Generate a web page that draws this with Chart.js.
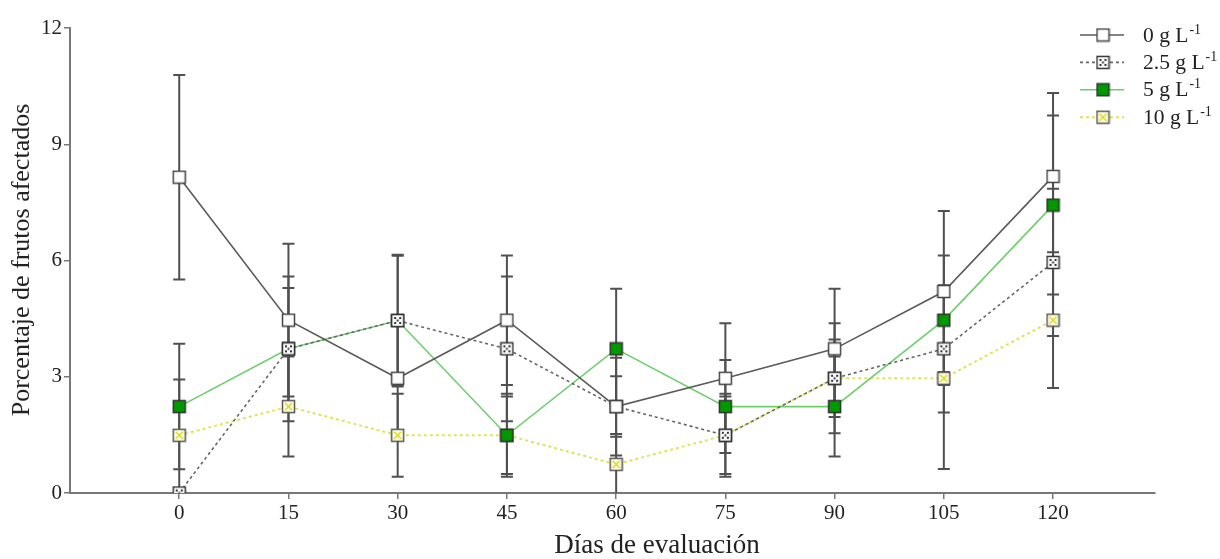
<!DOCTYPE html>
<html>
<head>
<meta charset="utf-8">
<script src="https://cdn.jsdelivr.net/npm/chart.js@4"></script>
<style>
  html, body { margin: 0; padding: 0; background: #fff; }
  canvas { display: block; }
</style>
</head>
<body>
<canvas id="chart" width="1220" height="559"></canvas>
<script>
// evaluation days
const days = [0, 15, 30, 45, 60, 75, 90, 105, 120];

// mean % of affected fruit per dose, with error (+/-)
const dose0 = [8.15, 4.46, 2.96, 4.46, 2.23, 2.96, 3.72, 5.2, 8.17];
const err0 = [2.64, 1.97, 1.5, 1.67, 1.26, 1.42, 1.55, 2.08, 2.15];

const dose25 = [0, 3.72, 4.45, 3.72, 2.23, 1.49, 2.96, 3.72, 5.95];
const err25 = [0, 1.57, 1.7, 1.87, 0.78, 1.0, 1.42, 1.64, 1.9];

const dose5 = [2.23, 3.72, 4.45, 1.49, 3.72, 2.23, 2.23, 4.46, 7.43];
const err5 = [1.62, 1.87, 1.67, 1.0, 1.55, 1.2, 1.29, 1.67, 2.31];

const dose10 = [1.49, 2.23, 1.49, 1.49, 0.74, 1.49, 2.96, 2.96, 4.46];
const err10 = [1.44, 1.29, 1.07, 1.07, 0.78, 1.07, 1.0, 2.34, 1.75];

const doseLabels = ['0', '2.5', '5', '10'];
const yTicks = [0, 3, 6, 9, 12];

const serif = '"Liberation Serif", "DejaVu Serif", serif';

// little square markers drawn once and reused by the points and the legend
function marker(fill, border, extra) {
  const c = document.createElement('canvas');
  c.width = 15; c.height = 15;
  const g = c.getContext('2d');
  g.fillStyle = fill;
  g.fillRect(1, 1, 13, 13);
  if (extra) extra(g);
  g.strokeStyle = border;
  g.lineWidth = 1.5;
  g.strokeRect(1.5, 1.5, 12, 12);
  return c;
}

const mk0 = marker('#ffffff', '#444');
const mk25 = marker('#ffffff', '#333', g => {
  g.fillStyle = '#333';
  [[4, 4], [9, 4], [6.5, 6.5], [4, 9], [9, 9]].forEach(p => g.fillRect(p[0], p[1], 2, 2));
});
const mk5 = marker('#009a00', '#333');
const mk10 = marker('#ffffe6', '#555', g => {
  g.strokeStyle = '#d8d820';
  g.lineWidth = 1.5;
  g.beginPath();
  g.moveTo(4, 4); g.lineTo(11, 11);
  g.moveTo(11, 4); g.lineTo(4, 11);
  g.stroke();
});

function pts(vals) {
  return vals.map((v, i) => ({ x: days[i], y: v }));
}

const datasets = [
  { label: doseLabels[0], data: pts(dose0), err: err0, borderColor: '#5a5a5a', borderWidth: 1.6, borderDash: [], pointStyle: mk0 },
  { label: doseLabels[1], data: pts(dose25), err: err25, borderColor: '#666', borderWidth: 1.6, borderDash: [3, 3], pointStyle: mk25 },
  { label: doseLabels[2], data: pts(dose5), err: err5, borderColor: '#6ccf6c', borderWidth: 1.6, borderDash: [], pointStyle: mk5 },
  { label: doseLabels[3], data: pts(dose10), err: err10, borderColor: '#e2e25a', borderWidth: 2, borderDash: [3, 3], pointStyle: mk10 }
].map(d => Object.assign(d, { fill: false, tension: 0, pointRadius: 7, pointHoverRadius: 7 }));

// vertical error bars with caps, under the markers
const errorBars = {
  id: 'errorBars',
  beforeDatasetsDraw(chart) {
    const { ctx, scales: { x, y } } = chart;
    ctx.save();
    ctx.strokeStyle = '#505050';
    ctx.lineWidth = 2;
    chart.data.datasets.forEach(ds => {
      ds.data.forEach((p, i) => {
        const e = ds.err[i];
        if (!e) return;
        const px = x.getPixelForValue(p.x);
        const top = y.getPixelForValue(p.y + e);
        const bot = y.getPixelForValue(Math.max(p.y - e, 0));
        ctx.beginPath();
        ctx.moveTo(px, top); ctx.lineTo(px, bot);
        ctx.moveTo(px - 6, top); ctx.lineTo(px + 6, top);
        if (p.y - e > 0) { ctx.moveTo(px - 6, bot); ctx.lineTo(px + 6, bot); }
        ctx.stroke();
      });
    });
    ctx.restore();
  }
};

// axis titles and the legend with its superscript unit
const decorations = {
  id: 'decorations',
  afterDraw(chart) {
    const ctx = chart.ctx;
    ctx.save();
    ctx.fillStyle = '#222';
    ctx.textAlign = 'center';
    ctx.textBaseline = 'middle';
    ctx.font = '27px ' + serif;
    ctx.fillText('Días de evaluación', 657, 546);

    ctx.save();
    ctx.translate(22, 260);
    ctx.rotate(-Math.PI / 2);
    ctx.font = '26px ' + serif;
    ctx.fillText('Porcentaje de frutos afectados', 0, 0);
    ctx.restore();

    chart.data.datasets.forEach((ds, i) => {
      const ly = 35 + i * 27.4;
      ctx.strokeStyle = ds.borderColor;
      ctx.lineWidth = ds.borderWidth;
      ctx.setLineDash(ds.borderDash);
      ctx.beginPath();
      ctx.moveTo(1080, ly); ctx.lineTo(1124, ly);
      ctx.stroke();
      ctx.setLineDash([]);
      ctx.drawImage(ds.pointStyle, 1095.5, ly - 7.5);

      ctx.textAlign = 'left';
      ctx.textBaseline = 'middle';
      ctx.font = '21.5px ' + serif;
      const txt = ds.label + ' g L';
      ctx.fillText(txt, 1143, ly + 1);
      const w = ctx.measureText(txt).width;
      ctx.font = '14px ' + serif;
      ctx.fillText('-1', 1143 + w + 1, ly - 5);
    });
    ctx.restore();
  }
};

new Chart(document.getElementById('chart'), {
  type: 'line',
  data: { datasets: datasets },
  plugins: [errorBars, decorations],
  options: {
    responsive: false,
    animation: false,
    layout: { padding: { top: 28, right: 65, left: 0, bottom: 0 } },
    plugins: { legend: { display: false }, tooltip: { enabled: false } },
    scales: {
      x: {
        type: 'linear',
        min: -15,
        max: 134,
        afterBuildTicks: s => { s.ticks = days.map(v => ({ value: v })); },
        afterFit: s => { s.height = 66; },
        grid: { display: true, drawOnChartArea: false, tickLength: 6, color: '#777', lineWidth: 1.5 },
        border: { color: '#777', width: 2 },
        ticks: { color: '#222', font: { family: serif, size: 21 }, padding: 2, maxRotation: 0 }
      },
      y: {
        min: 0,
        max: 12,
        afterBuildTicks: s => { s.ticks = yTicks.map(v => ({ value: v })); },
        afterFit: s => { s.width = 70; },
        grid: { display: true, drawOnChartArea: false, tickLength: 6, color: '#777', lineWidth: 1.5 },
        border: { color: '#777', width: 2 },
        ticks: { color: '#222', font: { family: serif, size: 21 }, padding: 2 }
      }
    }
  }
});
</script>
</body>
</html>
